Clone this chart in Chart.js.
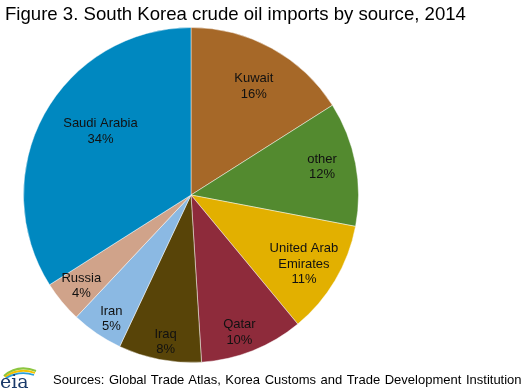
<!DOCTYPE html>
<html>
<head>
<meta charset="utf-8">
<script src="https://cdn.jsdelivr.net/npm/chart.js@4/dist/chart.umd.min.js"></script>
<style>
  html, body { margin: 0; padding: 0; background: #fff; }
  #wrap { position: relative; width: 525px; height: 389px; overflow: hidden; font-family: "Liberation Sans", Arial, sans-serif; }
  #grafico { position: absolute; left: 0; top: 0; }
  #titulo { position: absolute; left: 5px; top: 3px; font-size: 18.6px; color: #000; white-space: nowrap; }
  #fuente { position: absolute; left: 53px; top: 372px; font-size: 13px; color: #000; white-space: nowrap; word-spacing: 1px; }
  #logo { position: absolute; left: 0; top: 362px; }
</style>
</head>
<body>
<div id="wrap">
  <canvas id="grafico" width="525" height="389"></canvas>
  <div id="titulo">Figure 3. South Korea crude oil imports by source, 2014</div>
  <svg id="logo" width="42" height="27" viewBox="0 0 42 27">
    <path d="M4 14 Q18 2 36 9" stroke="#8cc63f" stroke-width="2.2" fill="none"/>
    <path d="M5 15 Q19 5 35 11" stroke="#f5c200" stroke-width="1.8" fill="none"/>
    <path d="M6 16 Q20 8 34 13" stroke="#2a9fd8" stroke-width="1.8" fill="none"/>
    <text x="0" y="26" font-family="DejaVu Serif, serif" font-size="19" fill="#1a3a6a">eia</text>
  </svg>
  <div id="fuente">Sources: Global Trade Atlas, Korea Customs and Trade Development Institution</div>
</div>
<script>
// datos
const paises = ['Kuwait', 'other', 'United Arab Emirates', 'Qatar', 'Iraq', 'Iran', 'Russia', 'Saudi Arabia'];
const etiquetas = [['Kuwait'], ['other'], ['United Arab', 'Emirates'], ['Qatar'], ['Iraq'], ['Iran'], ['Russia'], ['Saudi Arabia']];
const porcentajes = [16, 12, 11, 10, 8, 5, 4, 34];
const colores = ['#a66828', '#538a2f', '#e2b000', '#8e2b3b', '#584408', '#8bb9e3', '#d0a38a', '#0088c0'];

// colocacion de cada etiqueta: radio relativo y giro en grados respecto al centro de la porcion
const radioEtiqueta = [0.75, 0.80, 0.79, 0.87, 0.89, 0.88, 0.85, 0.66];
const giroEtiqueta = [1.2, -1.3, 0.8, 2.2, -1, -1.5, 0, 6.2];

const etiquetasPlugin = {
  id: 'etiquetasPorcion',
  afterDatasetsDraw(chart) {
    const ctx = chart.ctx;
    const meta = chart.getDatasetMeta(0);
    ctx.save();
    ctx.font = '13px "Liberation Sans", Arial, sans-serif';
    ctx.fillStyle = '#111';
    ctx.textAlign = 'center';
    ctx.textBaseline = 'middle';
    meta.data.forEach((arc, i) => {
      const p = arc.getProps(['x', 'y', 'startAngle', 'endAngle', 'outerRadius'], true);
      const ang = (p.startAngle + p.endAngle) / 2 + giroEtiqueta[i] * Math.PI / 180;
      const r = p.outerRadius * radioEtiqueta[i];
      const cx = p.x + Math.cos(ang) * r;
      const cy = p.y + Math.sin(ang) * r;
      const lineas = etiquetas[i].concat([porcentajes[i] + '%']);
      const alto = 15.5;
      lineas.forEach((t, k) => {
        ctx.fillText(t, cx, cy + (k - (lineas.length - 1) / 2) * alto);
      });
    });
    ctx.restore();
  }
};

new Chart(document.getElementById('grafico'), {
  type: 'pie',
  data: {
    labels: paises,
    datasets: [{
      data: porcentajes,
      backgroundColor: colores,
      borderColor: 'rgba(255,255,255,0.45)',
      borderWidth: 1
    }]
  },
  options: {
    responsive: false,
    animation: false,
    layout: { padding: { left: 23, right: 166, top: 27, bottom: 26 } },
    plugins: {
      legend: { display: false },
      tooltip: { enabled: false },
      title: { display: false }
    }
  },
  plugins: [etiquetasPlugin]
});
</script>
</body>
</html>
